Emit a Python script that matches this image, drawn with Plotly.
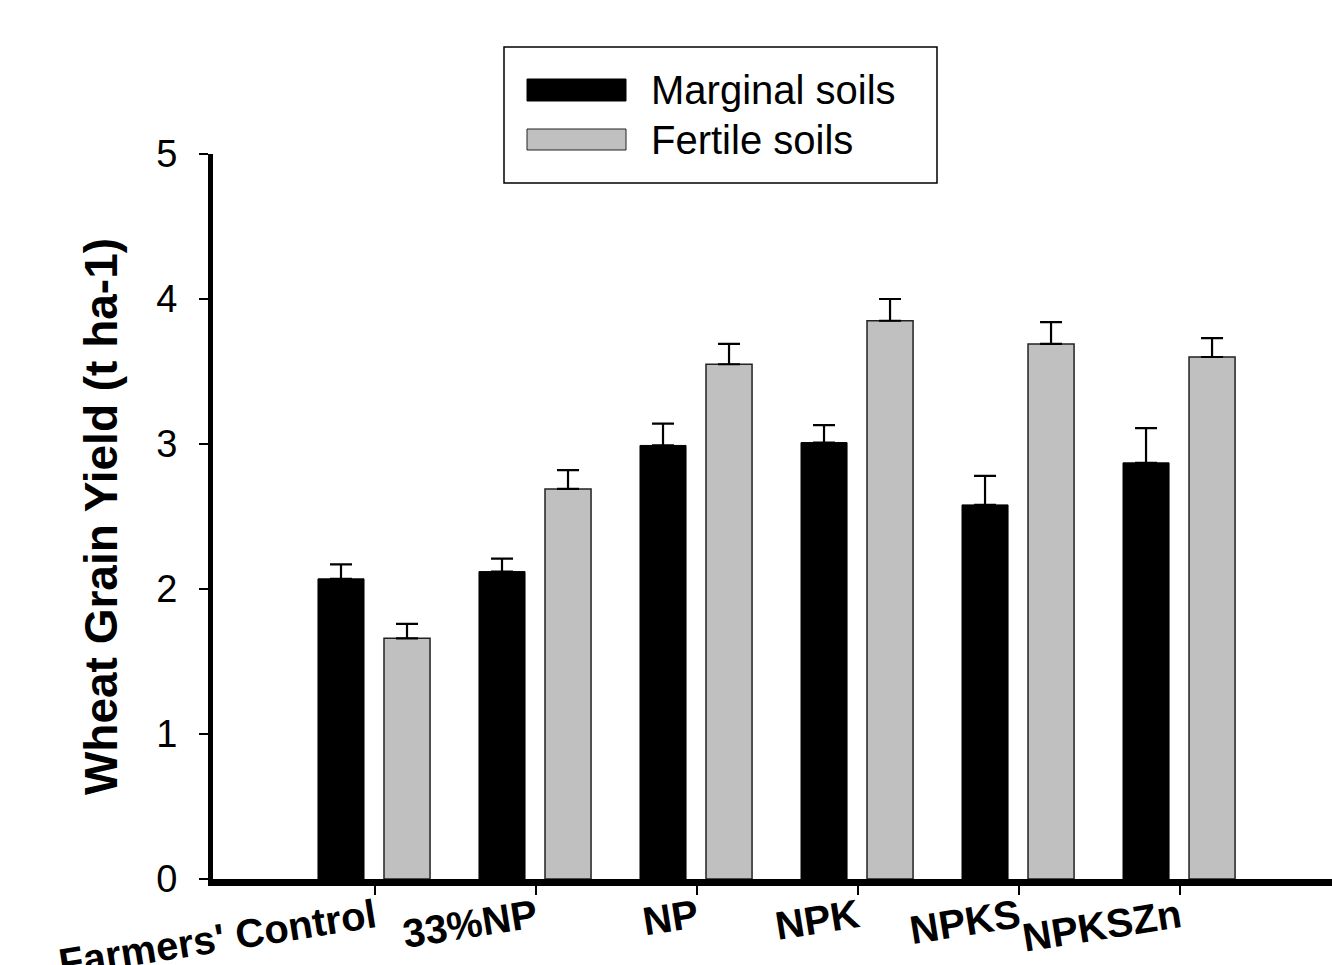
import plotly.graph_objects as go

categories = ["Farmers' Control", "33%NP", "NP", "NPK", "NPKS", "NPKSZn"]
series_names = ["Marginal soils", "Fertile soils"]
marginal = [2.07, 2.12, 2.99, 3.01, 2.58, 2.87]
marginal_err = [0.10, 0.09, 0.15, 0.12, 0.20, 0.24]
fertile = [1.66, 2.69, 3.55, 3.85, 3.69, 3.60]
fertile_err = [0.10, 0.13, 0.14, 0.15, 0.15, 0.13]
y_ticks = [0, 1, 2, 3, 4, 5]

W, H = 1332, 965
L, R, T, B = 213, 0, 154, 86
FONT = "Liberation Sans, Arial, sans-serif"

xpos = list(range(len(categories)))

fig = go.Figure()
fig.add_trace(go.Bar(
    x=xpos, y=marginal, name=series_names[0],
    width=0.286, offset=-0.354,
    marker=dict(color="black", line=dict(color="black", width=1)),
    error_y=dict(type="data", array=marginal_err, arrayminus=[0]*len(marginal),
                 symmetric=False, color="black", thickness=2.2, width=11),
    showlegend=False,
))
fig.add_trace(go.Bar(
    x=xpos, y=fertile, name=series_names[1],
    width=0.286, offset=0.056,
    marker=dict(color="#c0c0c0", line=dict(color="#222222", width=1.5)),
    error_y=dict(type="data", array=fertile_err, arrayminus=[0]*len(fertile),
                 symmetric=False, color="black", thickness=2.2, width=11),
    showlegend=False,
))

# custom legend (paper coordinates derived from pixel layout)
pw, ph = W - L - R, H - T - B
def px(xp):
    return (xp - L) / pw
def py(yp):
    return (H - B - yp) / ph

shapes = [
    dict(type="rect", xref="paper", yref="paper", x0=px(504), x1=px(937), y0=py(183), y1=py(47),
         line=dict(color="black", width=1.5), fillcolor="white"),
    dict(type="rect", xref="paper", yref="paper", x0=px(527), x1=px(626), y0=py(101), y1=py(79),
         line=dict(color="black", width=1), fillcolor="black"),
    dict(type="rect", xref="paper", yref="paper", x0=px(527), x1=px(626), y0=py(150), y1=py(129),
         line=dict(color="#222222", width=1), fillcolor="#c0c0c0"),
]
annotations = [
    dict(xref="paper", yref="paper", x=px(649), y=py(90), text=series_names[0], showarrow=False,
         xanchor="left", yanchor="middle", font=dict(family=FONT, size=40, color="black")),
    dict(xref="paper", yref="paper", x=px(649), y=py(140), text=series_names[1], showarrow=False,
         xanchor="left", yanchor="middle", font=dict(family=FONT, size=40, color="black")),
]

fig.update_layout(
    width=W, height=H,
    margin=dict(l=L, r=R, t=T, b=B, autoexpand=False),
    paper_bgcolor="white", plot_bgcolor="white",
    barmode="overlay",
    font=dict(family=FONT, color="black"),
    shapes=shapes, annotations=annotations,
    xaxis=dict(
        range=[-1.006, 5.944], tickmode="array", tickvals=xpos, ticktext=categories,
        tickangle=-9, tickfont=dict(family=FONT, size=40, color="black", weight="bold"),
        showline=True, linecolor="black", linewidth=7, ticks="outside", ticklen=9,
        tickwidth=2, tickcolor="black", showgrid=False, zeroline=False, automargin=False,
        ticklabelstandoff=-16,
    ),
    yaxis=dict(
        range=[0, 5], tickmode="array", tickvals=y_ticks,
        tickfont=dict(family=FONT, size=38, color="black"),
        showline=True, linecolor="black", linewidth=5, ticks="outside", ticklen=9,
        tickwidth=2, tickcolor="black", showgrid=False, zeroline=False, automargin=False,
        ticklabelstandoff=14,
        title=dict(text="Wheat Grain Yield (t ha-1)", standoff=26,
                   font=dict(family=FONT, size=46, color="black", weight="bold")),
    ),
)

fig.write_html("out.html", config={"displayModeBar": False},
               post_script="document.body.style.margin='0';")
